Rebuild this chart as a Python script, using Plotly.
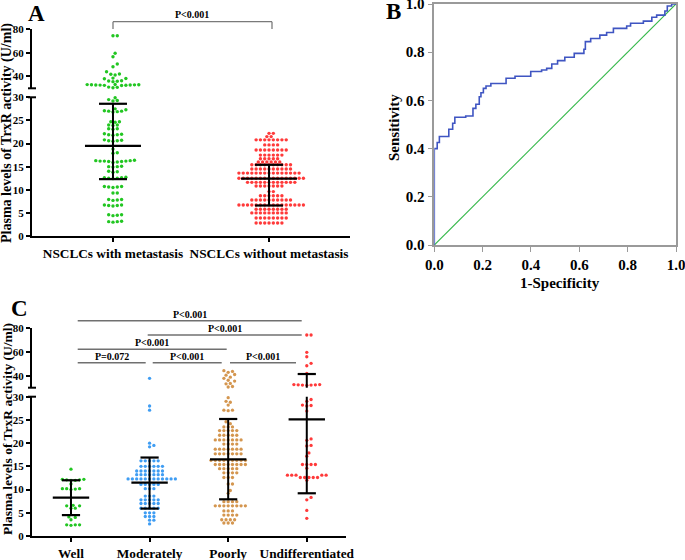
import plotly.graph_objects as go

W, H = 685, 560

# ---------------- Data ----------------
a_categories = ["NSCLCs with metastasis", "NSCLCs without metastasis"]
a_with_meta = [
    74.3, 74.3, 59.5, 56.6, 50.5, 48.2, 44.0, 42.0, 41.8, 41.2, 38.6, 38.2, 38.0,
    36.4, 36.2, 35.9, 35.6, 33.2, 33.1, 33.0, 33.0, 32.9, 32.8, 32.8, 32.7, 32.6,
    32.5, 32.4, 31.0, 30.8, 30.5,
    29.9, 29.5, 29.3, 29.2, 27.5, 27.3, 27.1, 27.0, 27.0, 26.9, 26.8, 24.7, 24.6,
    24.7, 24.0, 24.0, 23.9, 23.2, 23.2, 23.1, 22.0, 21.9, 21.8, 21.9, 22.1, 20.7,
    20.6, 20.5, 20.6, 20.8, 18.8, 18.0, 17.9, 16.3, 16.2, 16.1, 16.2, 16.4, 16.0,
    16.3, 16.1, 16.2, 15.9, 15.0, 15.1, 14.9, 15.0, 13.9, 13.8, 14.0, 12.6, 12.5,
    12.4, 12.5, 12.6, 12.7, 10.7, 10.6, 10.5, 10.6, 10.7, 9.3, 9.3, 7.9, 7.8, 7.7,
    7.9, 6.7, 6.6, 6.5, 6.6, 6.7, 4.6, 4.5, 4.4, 4.6, 3.2, 3.1, 3.0, 3.1,
]
a_without_meta = [
    22.2, 22.2, 21.5, 21.5,
    20.8, 20.8, 20.8, 20.8, 20.8, 20.8, 20.8, 20.8,
    19.7, 19.7, 19.7, 19.7,
    18.6, 18.6, 18.6, 18.6, 18.6, 18.6, 18.6, 18.6,
    17.5, 17.5, 17.5, 17.5, 17.5, 17.5,
    16.7, 16.7, 16.7, 16.7, 16.7,
    16.0, 16.0, 16.0, 16.0, 16.0, 16.0,
    15.4, 15.4, 15.4, 15.4, 15.4, 15.4, 15.4, 15.4, 15.4, 15.4,
    14.5, 14.5, 14.5, 14.5, 14.5, 14.5, 14.5, 14.5, 14.5, 14.5,
    13.6, 13.6, 13.6, 13.6, 13.6, 13.6, 13.6, 13.6, 13.6, 13.6, 13.6, 13.6, 13.6, 13.6, 13.6,
    12.5, 12.5, 12.5, 12.5, 12.5, 12.5, 12.5, 12.5, 12.5, 12.5, 12.5, 12.5, 12.5, 12.5, 12.5, 12.5,
    11.6, 11.6, 11.6, 11.6, 11.6, 11.6, 11.6, 11.6, 11.6, 11.6, 11.6, 11.6,
    10.8, 10.8, 10.8, 10.8, 10.8, 10.8, 10.8,
    9.6, 9.6,
    8.7, 8.7, 8.7, 8.7, 8.7, 8.7,
    7.8, 7.8, 7.8, 7.8, 7.8, 7.8, 7.8, 7.8, 7.8, 7.8,
    6.7, 6.7, 6.7, 6.7, 6.7, 6.7, 6.7, 6.7, 6.7, 6.7, 6.7, 6.7, 6.7, 6.7, 6.7, 6.7,
    5.8, 5.8, 5.8, 5.8, 5.8, 5.8, 5.8, 5.8,
    5.0, 5.0, 5.0, 5.0, 5.0, 5.0, 5.0, 5.0, 5.0,
    3.9, 3.9, 3.9, 3.9, 3.9, 3.9, 3.9, 3.9,
    2.8, 2.8, 2.8, 2.8, 2.8, 2.8, 2.8,
]
a_center = [19.5, 12.4]
a_low = [12.3, 6.6]
a_high = [28.6, 15.4]
a_pvalue = "P<0.001"

roc_fpr = [0, 0, 0.012, 0.021, 0.06, 0.076, 0.085, 0.13, 0.16, 0.172, 0.186, 0.193,
           0.203, 0.214, 0.234, 0.297, 0.334, 0.399, 0.444, 0.465, 0.486, 0.51, 0.54,
           0.579, 0.619, 0.625, 0.647, 0.685, 0.713, 0.741, 0.796, 0.812, 0.865, 0.9,
           0.92, 0.954, 0.964, 0.982, 1.0]
roc_tpr = [0, 0.40, 0.425, 0.45, 0.48, 0.505, 0.53, 0.535, 0.567, 0.584, 0.615, 0.632,
           0.65, 0.66, 0.67, 0.692, 0.70, 0.72, 0.726, 0.733, 0.751, 0.765, 0.779,
           0.795, 0.812, 0.844, 0.857, 0.871, 0.882, 0.899, 0.909, 0.92, 0.929, 0.945,
           0.954, 0.971, 0.992, 1.0, 1.0]
ref_line = [0, 1]

c_categories = ["Well", "Moderately", "Poorly", "Undifferentiated"]
c_well = [14.4, 12.2, 12.1, 12.0, 12.1, 12.2, 12.0, 11.2, 10.2, 10.2, 10.1, 10.2, 10.0,
          6.5, 6.6, 6.5, 6.0, 6.0, 4.0, 4.1, 3.5, 2.4, 2.3, 2.4, 2.4]
c_moderate = [37.8, 28.0, 27.1, 20.0, 19.5, 19.2,
              16.2, 16.2, 16.2, 16.2, 16.2,
              15.0, 15.0, 15.0, 15.0, 15.0, 15.0,
              14.0, 14.0, 14.0, 14.0, 14.0, 14.0, 14.0,
              13.2, 13.2, 13.2, 13.2, 13.2, 13.2, 13.2,
              12.3, 12.3, 12.3, 12.3, 12.3, 12.3, 12.3, 12.3, 12.3, 12.3, 12.3, 12.3,
              11.1, 11.1, 11.1, 11.1, 11.1,
              10.2, 10.2, 10.2, 8.6, 8.6, 8.6,
              7.8, 7.8, 7.8, 7.8, 7.8,
              7.0, 7.0, 7.0, 7.0, 7.0,
              6.0, 6.0, 6.0, 6.0, 6.0,
              5.0, 5.0, 5.0, 4.2, 4.2, 4.2, 3.4, 3.4, 2.6]
c_poor = [44.2, 43.6, 42.8, 41.0, 40.4, 38.8, 37.8, 36.2, 35.5, 33.6, 33.2, 31.0, 30.6,
          29.8, 29.0, 28.8, 28.2, 27.1, 27.1, 27.0, 24.6, 24.2,
          23.5, 23.5, 23.5,
          22.7, 22.7, 22.7, 22.7, 22.7,
          21.7, 21.7, 21.7, 21.7, 21.7,
          20.7, 20.7, 20.7, 20.7, 20.7, 20.7, 20.7,
          19.8, 19.8, 19.8, 19.8,
          18.7, 18.7, 18.7, 18.7, 18.7, 18.7, 18.7,
          17.7, 17.7, 17.7, 17.7, 17.7, 17.7, 17.7,
          16.3, 16.3, 16.3, 16.3, 16.3, 16.3, 16.3, 16.3, 16.3,
          15.4, 15.4, 15.4, 15.4, 15.4, 15.4, 15.4, 15.4,
          14.5, 14.5, 14.5, 14.5, 14.5,
          13.6, 13.6, 13.6, 13.6,
          12.6, 12.6, 12.6, 11.2, 11.2, 9.8, 9.2,
          7.4, 7.4, 7.4, 7.4,
          6.5, 6.5, 6.5, 6.5, 6.5, 6.5, 6.5, 6.5,
          5.4, 5.4, 5.4, 4.5, 4.5, 4.5, 4.5, 3.5, 3.5, 3.5, 3.5, 2.8, 2.8, 2.8]
c_undiff = [73.9, 73.9, 59.5, 55.8, 50.3, 48.3, 41.9,
            32.6, 32.4, 32.2, 32.0, 32.2, 32.4, 32.6,
            29.4, 29.0, 28.1, 28.0, 28.2, 26.9, 20.6, 20.9, 19.5, 19.4, 17.9, 17.2,
            15.4, 15.4, 15.4, 15.4, 14.6,
            13.1, 13.1, 13.1, 13.1, 13.1,
            12.6, 12.6, 12.6, 12.6, 12.6,
            12.0, 8.3, 7.8, 5.5, 3.8]
c_center = [8.25, 11.5, 16.5, 25.1]
c_low = [4.5, 5.9, 7.9, 9.2]
c_high = [12.0, 16.9, 25.2, 41.4]
c_pairs = [(0, 3, "P<0.001"), (1, 3, "P<0.001"), (0, 2, "P<0.001"),
           (0, 1, "P=0.072"), (1, 2, "P<0.001"), (2, 3, "P<0.001")]

# ---------------- Styles / layout geometry (pixels) ----------------
FONT = "Liberation Serif"
GREEN, RED, BLUE, TAN = "#22c622", "#ff3a3a", "#3f9df3", "#d4964f"

def fx(px):
    return px / W

def fy(py):
    return 1 - py / H

# panel A
A_X = (32, 350); A_XR = (-0.519, 1.519)
A_YL = (236, 97.3); A_YU = (88.3, 29)
# panel B
B_X = (434.3, 676); B_Y = (245, 4)
# panel C
C_X = (32, 346); C_XR = (-0.496, 3.499)
C_YL = (536, 396.7); C_YU = (387.7, 327.7)

BREAK = 30

fig = go.Figure()


def swarm(values, center, ppx, ppy, d=3.5, step=4.3):
    placed = []
    out = [0.0] * len(values)
    cands = [0.0]
    for k in range(1, 120):
        cands += [k * step / 2, -k * step / 2]
    for i in sorted(range(len(values)), key=lambda j: values[j]):
        y = values[i] * ppy
        for c in cands:
            ok = True
            for (px, py) in placed:
                if abs(py - y) < d and (px - c) ** 2 + (py - y) ** 2 < d * d:
                    ok = False
                    break
            if ok:
                break
        placed.append((c, y))
        out[i] = center + c / ppx
    return out


def add_group(vals, idx, color, xax, ylo, yhi, xpx, xr, ylpx, yupx, size=3.4):
    ppx = (xpx[1] - xpx[0]) / (xr[1] - xr[0])
    ppy_lo = (ylpx[0] - ylpx[1]) / BREAK
    ppy_hi = (yupx[0] - yupx[1]) / 50.0
    lo = [v for v in vals if v < BREAK]
    hi = [v for v in vals if v >= BREAK]
    for seg, ppy, yax in ((lo, ppy_lo, ylo), (hi, ppy_hi, yhi)):
        if not seg:
            continue
        xs = swarm(seg, idx, ppx, ppy)
        fig.add_trace(go.Scatter(x=xs, y=seg, mode="markers", xaxis=xax, yaxis=yax,
                                 cliponaxis=False,
                                 marker=dict(size=size, color=color, symbol="circle",
                                             line=dict(width=0))))


def add_summary(center, low, high, xax, ylo, yhi, mean_w, cap_w):
    n = len(center)
    vx, vy = [], []
    for i in range(n):
        vx += [i, i, None]
        vy += [low[i], high[i], None]
    for yax in (ylo, yhi):
        fig.add_trace(go.Scatter(x=vx, y=vy, mode="lines", xaxis=xax, yaxis=yax,
                                 line=dict(color="black", width=2)))
    for vals, w in ((center, mean_w), (low, cap_w), (high, cap_w)):
        for seg_lo in (True, False):
            xs = [i for i in range(n) if (vals[i] <= BREAK) == seg_lo]
            ys = [vals[i] for i in xs]
            if not xs:
                continue
            fig.add_trace(go.Scatter(x=xs, y=ys, mode="markers", xaxis=xax,
                                     yaxis=ylo if seg_lo else yhi, cliponaxis=False,
                                     marker=dict(symbol="line-ew", size=w,
                                                 line=dict(width=2.2, color="black"))))


# ---- Panel A
add_group(a_with_meta, 0, GREEN, "x", "y", "y2", A_X, A_XR, A_YL, A_YU)
add_group(a_without_meta, 1, RED, "x", "y", "y2", A_X, A_XR, A_YL, A_YU)
add_summary(a_center, a_low, a_high, "x", "y", "y2", 40, 20)

# ---- Panel B
fig.add_trace(go.Scatter(x=ref_line, y=ref_line, mode="lines", xaxis="x2", yaxis="y3",
                         line=dict(color="#35b84a", width=1.2)))
fig.add_trace(go.Scatter(x=roc_fpr, y=roc_tpr, mode="lines", xaxis="x2", yaxis="y3",
                         line=dict(color="#3f55c2", width=1.6, shape="hv")))

# ---- Panel C
for i, (vals, col) in enumerate(((c_well, GREEN), (c_moderate, BLUE), (c_poor, TAN), (c_undiff, RED))):
    add_group(vals, i, col, "x3", "y4", "y5", C_X, C_XR, C_YL, C_YU, size=3.3)
add_summary(c_center, c_low, c_high, "x3", "y4", "y5", 26, 13)

# ---------------- Axes ----------------
ytick = dict(family=FONT, size=11, color="black", weight="bold")
common = dict(showgrid=False, zeroline=False, showline=True, linecolor="black", linewidth=2,
              ticks="outside", ticklen=4, tickwidth=2, tickcolor="black", fixedrange=True,
              automargin=False, tickangle=0, ticklabeloverflow="allow")
bstyle = dict(showgrid=False, zeroline=False, showline=True, mirror=True,
              linecolor="#9a9a9a", linewidth=1.5, ticks="outside", ticklen=5,
              tickcolor="#9a9a9a", tickwidth=1.2, automargin=False, tickangle=0,
              ticklabeloverflow="allow", fixedrange=True,
              tickvals=[0, 0.2, 0.4, 0.6, 0.8, 1.0], tickformat=".1f", range=[0, 1],
              tickfont=dict(family=FONT, size=15, color="black", weight="bold"))

fig.update_layout(
    width=W, height=H, margin=dict(l=0, r=0, t=0, b=0, autoexpand=False),
    paper_bgcolor="white", plot_bgcolor="white", showlegend=False,
    font=dict(family=FONT, color="black"),
    xaxis=dict(domain=[fx(A_X[0]), fx(A_X[1])], range=list(A_XR), anchor="y",
               tickvals=[0, 1], ticktext=a_categories,
               tickfont=dict(family=FONT, size=13.3, color="black", weight="bold"), **common),
    yaxis=dict(domain=[fy(A_YL[0]), fy(A_YL[1])], range=[0, BREAK], anchor="x",
               tickvals=[0, 5, 10, 15, 20, 25, 30], tickfont=ytick, **common),
    yaxis2=dict(domain=[fy(A_YU[0]), fy(A_YU[1])], range=[BREAK, 80], anchor="x",
                tickvals=[40, 60, 80], tickfont=ytick, **common),
    xaxis2=dict(domain=[fx(B_X[0]), fx(B_X[1])], anchor="y3", **bstyle),
    yaxis3=dict(domain=[fy(B_Y[0]), fy(B_Y[1])], anchor="x2", **bstyle),
    xaxis3=dict(domain=[fx(C_X[0]), fx(C_X[1])], range=list(C_XR), anchor="y4",
                tickvals=[0, 1, 2, 3], ticktext=c_categories,
                tickfont=dict(family=FONT, size=13.3, color="black", weight="bold"), **common),
    yaxis4=dict(domain=[fy(C_YL[0]), fy(C_YL[1])], range=[0, BREAK], anchor="x3",
                tickvals=[0, 5, 10, 15, 20, 25, 30], tickfont=ytick, **common),
    yaxis5=dict(domain=[fy(C_YU[0]), fy(C_YU[1])], range=[BREAK, 80], anchor="x3",
                tickvals=[40, 60, 80], tickfont=ytick, **common),
)

shapes = []
annos = []


def note(x, y, text, size, angle=0):
    annos.append(dict(x=fx(x), y=fy(y), text=text, textangle=angle, showarrow=False,
                      xref="paper", yref="paper", xanchor="center", yanchor="middle",
                      font=dict(family=FONT, size=size, color="black")))


# axis-break caps
for (ypx, xl) in ((A_YL[1], A_X[0]), (A_YU[0], A_X[0]), (C_YL[1], C_X[0]), (C_YU[0], C_X[0])):
    shapes.append(dict(type="line", xref="paper", yref="paper", x0=fx(xl - 4), x1=fx(xl + 4),
                       y0=fy(ypx), y1=fy(ypx), line=dict(color="black", width=2)))

# Panel A bracket
br_y, br_tip = 21.7, 29
for x0, y0, x1, y1 in ((113, br_tip, 113, br_y), (113, br_y, 272, br_y), (272, br_y, 272, br_tip)):
    shapes.append(dict(type="line", xref="paper", yref="paper", x0=fx(x0), x1=fx(x1),
                       y0=fy(y0), y1=fy(y1), line=dict(color="#7a7a7a", width=1.3)))
note(192, 14, "<b>" + a_pvalue + "</b>", 10)

# Panel C p-value lines (pixel geometry of each comparison line)
c_line_px = [(77.7, 301.7, 320.7), (147.7, 301.7, 335), (77.7, 226.7, 349.3),
             (77.7, 145.7, 362.7), (152.7, 221.7, 362.7), (230, 296, 362.7)]
for (i, j, txt), (x0, x1, yl) in zip(c_pairs, c_line_px):
    shapes.append(dict(type="line", xref="paper", yref="paper", x0=fx(x0), x1=fx(x1),
                       y0=fy(yl), y1=fy(yl), line=dict(color="#707070", width=1.5)))
    note((x0 + x1) / 2, yl - 6.5, "<b>" + txt + "</b>", 10)

# Titles
ytitle = "<b>Plasma levels of TrxR activity (U/ml)</b>"
note(7, 133, ytitle, 14, -90)
note(7, 429, ytitle, 13.5, -90)
note(394, 128, "<b>Sensitivity</b>", 15, -90)
note(560, 283, "<b>1-Specificity</b>", 15)

# Panel letters
for letter, x, y in (("A", 36, 13), ("B", 393, 11), ("C", 19, 308)):
    note(x, y, "<b>" + letter + "</b>", 23)

fig.update_layout(shapes=shapes, annotations=annos)
fig.write_html("out.html", config={"displayModeBar": False},
               post_script="document.body.style.margin='0px';document.body.style.overflow='hidden';")
